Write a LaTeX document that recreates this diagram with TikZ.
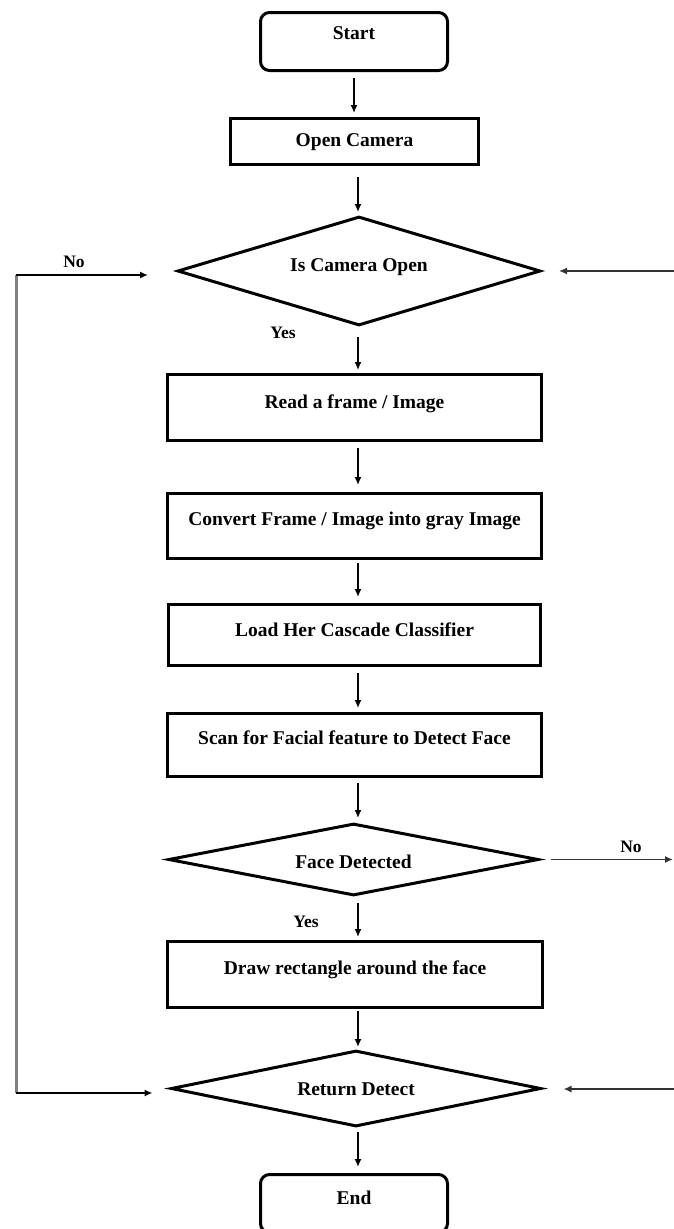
\documentclass[tikz,border=0pt]{standalone}
\usepackage{fontspec}
\setmainfont{Liberation Serif}
\usetikzlibrary{shapes.geometric,arrows.meta}
\begin{document}
\begin{tikzpicture}[x=1pt,y=-1pt,
  font=\fontsize{19.5}{22}\selectfont\bfseries,
  termbox/.style={draw, rounded corners=9pt, line width=3pt, minimum width=187pt, inner sep=0pt},
  procbox/.style={draw, rectangle, line width=3pt, inner sep=0pt},
  decision/.style={draw, diamond, line width=3pt, inner sep=0pt},
  lbl/.style={inner sep=0pt, font=\fontsize{17.5}{20}\selectfont\bfseries},
  arr/.style={line width=1.5pt, -{Latex[length=8pt,width=7pt]}},
  loopline/.style={line width=3pt, draw=black!50}]
\useasboundingbox (0,0) rectangle (674,1229);

\node[termbox, text height=27pt, text depth=31pt] (start) at (354,41.5) {Start};
\node[procbox, minimum width=248pt, text height=28pt, text depth=18pt] (open) at (354.5,141.5) {Open Camera};
\node[decision, shape aspect=3.33, minimum width=363pt, minimum height=109pt, text height=6pt, text depth=6pt] (d1) at (359,271) {Is Camera Open};
\node[procbox, minimum width=374pt, text height=34pt, text depth=32pt] (read) at (354.5,407.5) {Read a frame / Image};
\node[procbox, minimum width=374pt, text height=32pt, text depth=33pt] (conv) at (354.5,526) {Convert Frame / Image into gray Image};
\node[procbox, minimum width=372pt, text height=32pt, text depth=29pt] (load) at (354.5,635) {Load Her Cascade Classifier};
\node[procbox, minimum width=374pt, text height=31pt, text depth=32pt] (scan) at (354.5,745) {Scan for Facial feature to Detect Face};
\node[decision, shape aspect=5.1, minimum width=370pt, minimum height=72pt, text height=17pt, text depth=0pt] (d2) at (353.5,859.5) {Face Detected};
\node[procbox, minimum width=375pt, text height=33pt, text depth=33pt] (draw) at (355,974.5) {Draw rectangle around the face};
\node[decision, shape aspect=4.87, minimum width=370pt, minimum height=76pt, text height=13pt, text depth=0pt] (d3) at (356,1088.5) {Return Detect};
\node[termbox, text height=30pt, text depth=28pt] (end) at (354,1203.5) {End};

\node[lbl] (no1) at (74,262) {No};
\node[lbl] (yes1) at (283,333) {Yes};
\node[lbl] (no2) at (631,847) {No};
\node[lbl] (yes2) at (306,922) {Yes};

\coordinate (ax) at (358,0);
\coordinate (ltop) at (16,275);
\coordinate (lbot) at (16,1093);
\coordinate (r1) at (675,271);
\coordinate (r2) at (673,861);
\coordinate (r3) at (675,1089);

\draw[arr, shorten <=6pt, shorten >=4pt] (start.south) -- (open.north -| start.south);
\draw[arr, shorten <=11pt, shorten >=3pt] (open.south -| ax) -- (d1.north -| ax);
\draw[arr, shorten <=10pt, shorten >=3pt] (d1.south -| ax) -- (read.north -| ax);
\draw[arr, shorten <=6pt, shorten >=7pt] (read.south -| ax) -- (conv.north -| ax);
\draw[arr, shorten <=3pt, shorten >=6pt] (conv.south -| ax) -- (load.north -| ax);
\draw[arr, shorten <=6pt, shorten >=4pt] (load.south -| ax) -- (scan.north -| ax);
\draw[arr, shorten <=5pt, shorten >=4pt] (scan.south -| ax) -- (d2.north -| ax);
\draw[arr, shorten <=6pt, shorten >=3pt] (d2.south -| ax) -- (draw.north -| ax);
\draw[arr, shorten <=2pt, shorten >=2pt] (draw.south -| ax) -- (d3.north -| ax);
\draw[arr, shorten <=4pt, shorten >=6pt] (d3.south -| ax) -- (end.north -| ax);

\draw[loopline] (ltop) -- (lbot);
\draw[arr, shorten >=28pt] (ltop) -- (ltop -| d1.west);
\draw[arr, shorten >=17pt] (lbot) -- (lbot -| d3.west);

\draw[arr, draw=black!80, shorten >=17pt] (r1) -- (d1.east);
\draw[arr, draw=black!80, shorten >=21pt] (r3) -- (r3 -| d3.east);
\draw[arr, draw=black!80, shorten <=11pt] (d2.east) -- (d2.east -| r2);
\end{tikzpicture}
\end{document}
